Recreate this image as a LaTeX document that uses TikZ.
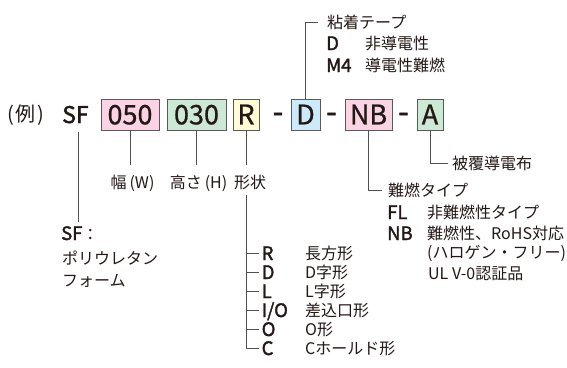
\documentclass[tikz,border=0pt]{standalone}
\usepackage{fontspec}
\setmainfont{Noto Sans CJK JP}
\newfontfamily\medfont[FakeBold=1.8]{Noto Sans CJK JP}
\newfontfamily\boxfont[FakeBold=0.8]{Noto Sans CJK JP}
\definecolor{ink}{RGB}{35,24,21}
\definecolor{pinkf}{RGB}{250,212,228}
\definecolor{greenf}{RGB}{206,232,214}
\definecolor{yellowf}{RGB}{255,251,214}
\definecolor{bluef}{RGB}{204,234,249}
\definecolor{edge}{RGB}{90,90,90}
\definecolor{linec}{RGB}{80,80,80}
\tikzset{
  box/.style={draw=edge, line width=0.9pt, minimum height=31pt, inner sep=0pt,
    font=\boxfont\fontsize{27}{27}\selectfont, text height=19.8pt, text depth=0pt, text=ink},
  dashn/.style={inner sep=0pt, font=\medfont\fontsize{30}{30}\selectfont, text height=16.8pt, text depth=0pt, text=ink},
  conn/.style={draw=linec, line width=0.8pt},
  jl/.style={font=\fontsize{16}{16}\selectfont, inner sep=0pt, anchor=west,
    text height=14.1pt, text depth=1.9pt, text=ink},
  bl/.style={font=\medfont\fontsize{18.5}{18.5}\selectfont, inner sep=0pt, anchor=west,
    text height=16.2pt, text depth=2.2pt, text=ink},
}
\begin{document}
\begin{tikzpicture}[x=1pt,y=-1pt]
\useasboundingbox (0,0) rectangle (567,367);
% main row
\node[jl, font=\fontsize{20}{20}\selectfont, text height=17.6pt, text depth=2.4pt] (rei) at (7,114) {(\kern2pt例\kern2pt)};
\node[inner sep=0pt, anchor=base west, font=\medfont\fontsize{23}{23}\selectfont, text=ink] (sf) at (62,123) {SF};
\node[box, fill=pinkf, minimum width=58pt] (b050) at (130,114.5) {050};
\node[box, fill=greenf, minimum width=59pt] (b030) at (196.5,114.5) {030};
\node[box, fill=yellowf, minimum width=26pt] (bR) at (246,114.5) {R};
\node[dashn] (d1) at (278,114) {-};
\node[box, fill=bluef, minimum width=29pt] (bD) at (305.5,114.5) {D};
\node[dashn] (d2) at (331.5,114) {-};
\node[box, fill=pinkf, minimum width=47pt] (bNB) at (368.5,114.5) {NB};
\node[dashn] (d3) at (403.5,114) {-};
\node[box, fill=greenf, minimum width=26pt] (bA) at (430,114.5) {A};
% labels below boxes
\node[jl, anchor=center] (lw) at (132.5,182) {幅\kern3pt(W)};
\node[jl, anchor=center] (lh) at (198.5,182) {高さ\kern3pt(H)};
\node[jl, anchor=center] (ls) at (250,182) {形状};
\draw[conn, shorten >=8.5pt] (b050.south) -- (b050.south |- lw.north);
\draw[conn, shorten >=8.5pt] (b030.south) -- (b030.south |- lh.north);
\draw[conn, shorten >=8.5pt] (bR.south) -- (bR.south |- ls.north);
% SF
\node[bl] (sfl) at (61,233) {SF\normalfont\fontsize{16}{16}\selectfont ：};
\node[jl] (sf2) at (62,258) {ポリウレタン};
\node[jl] (sf3) at (62,280) {フォーム};
\draw[conn, shorten <=8pt, shorten >=2pt] ([xshift=2.5pt]sf.south) -- ([xshift=2.5pt]sf.south |- sfl.north);
% shapes
\coordinate (rtop) at ([yshift=-5pt]bR.south |- ls.south);
\node[bl] (sR) at (261.5,253) {R};
\node[bl] (sD) at (261.5,272) {D};
\node[bl] (sL) at (261.5,291) {L};
\node[bl] (sIO) at (261.5,310) {I/O};
\node[bl] (sO) at (261.5,329) {O};
\node[bl] (sC) at (261.5,348) {C};
\node[jl] (jR) at (305,253) {長方形};
\node[jl] (jD) at (305,272) {D字形};
\node[jl] (jL) at (305,291) {L字形};
\node[jl] (jIO) at (305,310) {差込口形};
\node[jl] (jO) at (305,329) {O形};
\node[jl] (jC) at (305,348) {Cホールド形};
\draw[conn, shorten >=2.5pt] (rtop) |- (sC.west);
\foreach \n in {sR,sD,sL,sIO,sO}
  \draw[conn, shorten >=2.5pt] (rtop |- \n.west) -- (\n.west);
% tape
\node[jl] (tape) at (327,22) {粘着テープ};
\node[bl] (tD) at (326,43) {D};
\node[jl] (tD2) at (365,43) {非導電性};
\node[bl] (tM) at (326,65) {M4};
\node[jl] (tM2) at (365,65) {導電性難燃};
\draw[conn, shorten >=9pt] (bD.north) |- (tape.west);
% cover
\node[jl] (hifuku) at (452,163) {被覆導電布};
\draw[conn, shorten >=4pt] (bA.south) |- (hifuku.west);
% flame
\node[jl] (nen) at (388,190) {難燃タイプ};
\draw[conn, shorten >=6pt] (bNB.south) |- (nen.west);
\node[bl] (fl) at (387,212) {FL};
\node[jl] (fl2) at (427,212) {非難燃性タイプ};
\node[bl] (nb) at (387,233) {NB};
\node[jl] (nb2) at (427,233) {難燃性、RoHS対応};
\node[jl] (nb3) at (427,252) {(ハロゲン・フリー)};
\node[jl] (nb4) at (428,273) {UL V-0認証品};
\end{tikzpicture}
\end{document}
